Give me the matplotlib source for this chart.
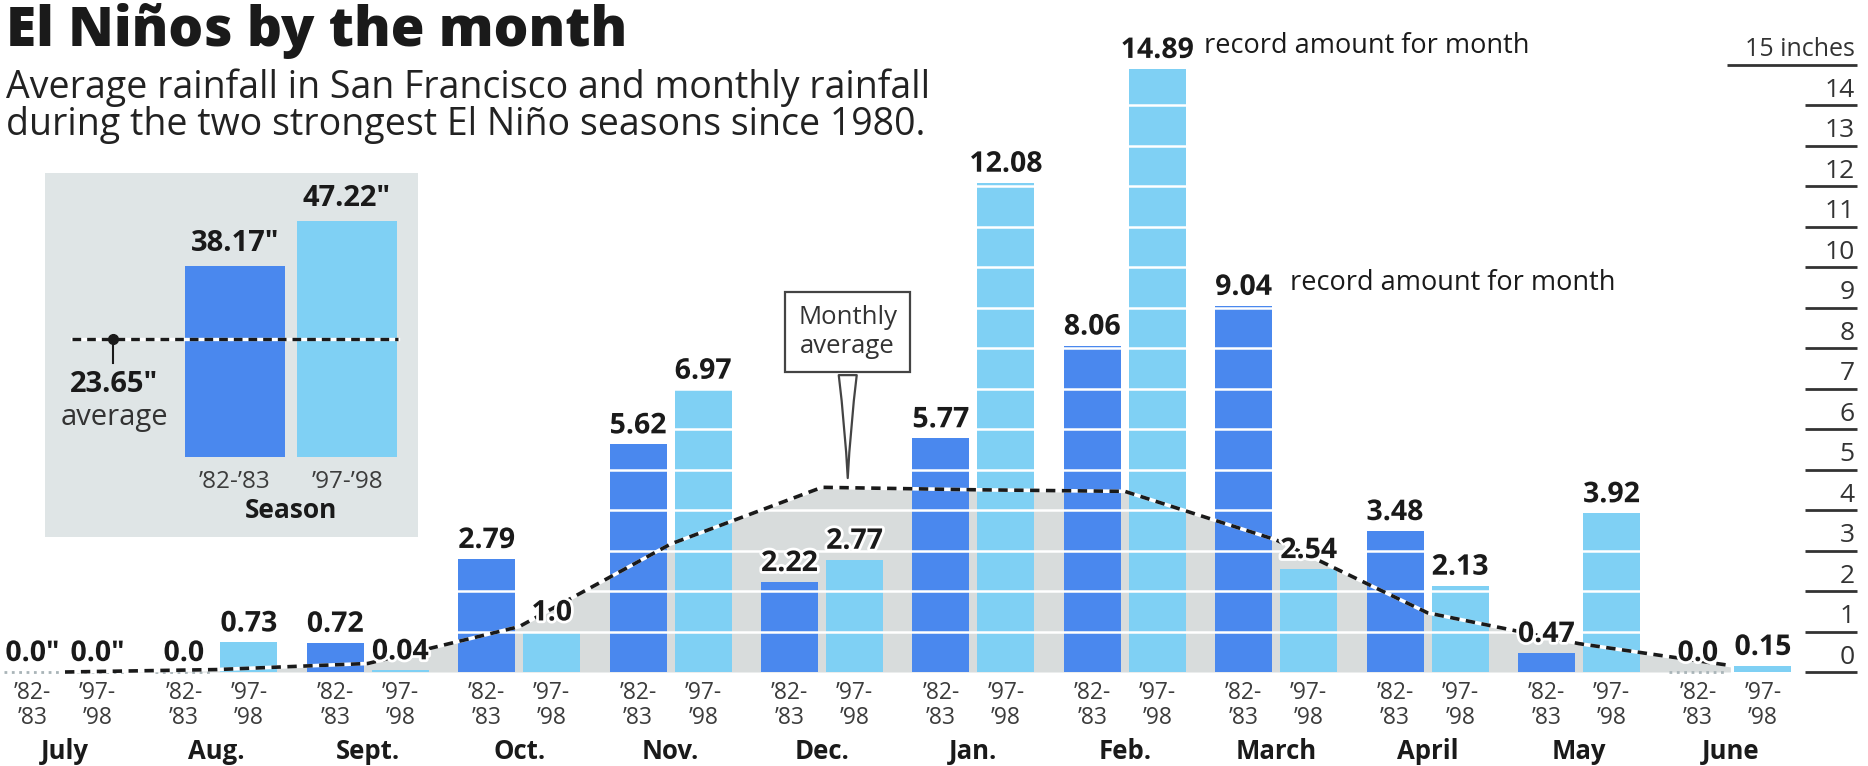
import numpy as np
import matplotlib.pyplot as plt
import matplotlib.patheffects as pe

plt.rcParams['font.family'] = ['Open Sans', 'DejaVu Sans']

# monthly rainfall in San Francisco (inches)
months = ['July', 'Aug.', 'Sept.', 'Oct.', 'Nov.', 'Dec.',
          'Jan.', 'Feb.', 'March', 'April', 'May', 'June']
rain_8283 = [0.0, 0.0, 0.72, 2.79, 5.62, 2.22, 5.77, 8.06, 9.04, 3.48, 0.47, 0.0]
rain_9798 = [0.0, 0.73, 0.04, 1.0, 6.97, 2.77, 12.08, 14.89, 2.54, 2.13, 3.92, 0.15]
monthly_avg = [0.0, 0.06, 0.21, 1.12, 3.16, 4.56, 4.50, 4.46, 3.26, 1.46, 0.70, 0.16]
season_short = ['’82-\n’83', '’97-\n’98']
season_names = ['’82-’83', '’97-’98']
records = [(7, 1), (8, 0)]   # (month index, season index)
inch_ticks = list(range(15))

season_totals = [round(sum(rain_8283), 2), round(sum(rain_9798), 2)]
season_avg = round(sum(monthly_avg), 2)

DARK = '#4a88ee'
LIGHT = '#7fd0f4'
GRAY = '#d8dcdc'
PANEL = '#dfe5e6'
INK = '#1a1a1a'
SUB = '#3c3c3c'

W, H = 1868, 766
fig = plt.figure(figsize=(W / 100, H / 100), dpi=100)

# main axes covers the whole figure, x in months, y in inches
ax = fig.add_axes([0, 0, 1, 1])
ax.axis('off')
px_month, x0, px_inch, base = 151.4, 65, 40.5, 672
ax.set_xlim(-x0 / px_month, (W - x0) / px_month)
ax.set_ylim(-(H - base) / px_inch, base / px_inch)

x = np.arange(len(months))
bw, off = 0.376, 0.215
series = [(rain_8283, DARK, -off), (rain_9798, LIGHT, off)]

ax.fill_between(x, monthly_avg, color=GRAY, lw=0, zorder=1)
for vals, col, dx in series:
    ax.bar(x + dx, vals, bw, color=col, zorder=2)
    zeros = [xi + dx for xi, v in zip(x, vals) if v == 0]
    ax.hlines([0] * len(zeros), np.array(zeros) - bw / 2, np.array(zeros) + bw / 2,
              colors='#a9b4b8', linestyles=':', lw=2, zorder=2)

# white inch stripes across the bars
ax.hlines(np.arange(1, 16), -0.45, 11.45, colors='white', lw=1.8, zorder=3)

# monthly average line
ax.plot(x, monthly_avg, color='white', lw=2.6, zorder=4)
ax.plot(x, monthly_avg, color=INK, lw=2.6, dashes=(2.6, 1.8), zorder=4.1)


def fmt(v):
    return f'{v:.1f}' if abs(v * 10 - round(v * 10)) < 1e-9 else f'{v:.2f}'


halo = [pe.withStroke(linewidth=4, foreground='white')]
for j, (vals, col, dx) in enumerate(series):
    for i, v in enumerate(vals):
        lab = fmt(v) + ('"' if i == 0 else '')
        ax.text(i + dx, v + 0.1, lab, ha='center', va='bottom',
                fontsize=20.5, fontweight='bold', color=INK, zorder=6,
                path_effects=halo)
        ax.text(i + dx, -0.22, season_short[j], ha='center', va='top',
                fontsize=16.5, color=SUB, linespacing=1.05, zorder=6)

for i, j in records:
    vals, col, dx = series[j]
    ax.text(i + dx + bw / 2 + 0.12, vals[i] + 0.22, 'record amount for month',
            ha='left', va='bottom', fontsize=19.5, color=INK, zorder=6)

for i, m in enumerate(months):
    ax.text(i, -1.97, m, ha='center', va='center', fontsize=18.5,
            fontweight='bold', color=INK)

# inch scale on the right
for t in inch_ticks:
    ax.hlines(t, 11.49, 11.836, colors='#333333', lw=2, zorder=5)
    ax.text(11.82, t + 0.05, str(t), ha='right', va='bottom', fontsize=19,
            color='#333333', zorder=5)
ax.hlines(15, 10.98, 11.836, colors='#333333', lw=2, zorder=5)
ax.text(11.82, 15 + 0.05, '15 inches', ha='right', va='bottom', fontsize=18,
        color='#333333', zorder=5)

# callout for the average line
ax.annotate('Monthly\naverage', xy=(5.17, 4.72), xytext=(5.17, 8.4),
            ha='center', va='center', fontsize=18.5, color='#333333', zorder=7,
            bbox=dict(boxstyle='square,pad=0.5', fc='white', ec='#444444', lw=1.6),
            arrowprops=dict(arrowstyle='wedge,tail_width=0.7,shrink_factor=0.4',
                            fc='white', ec='#444444', lw=1.6))

# title block
fig.text(6 / W, 1 - 46 / H, 'El Niños by the month', fontsize=39.5,
         fontweight='heavy', color=INK, va='baseline')
fig.text(6 / W, 1 - 98 / H, 'Average rainfall in San Francisco and monthly rainfall',
         fontsize=27, color='#222222', va='baseline')
fig.text(6 / W, 1 - 135 / H, 'during the two strongest El Niño seasons since 1980.',
         fontsize=27, color='#222222', va='baseline')

# season totals panel
ins = fig.add_axes([45 / W, (H - 537) / H, 373 / W, 364 / H], facecolor=PANEL)
for s in ins.spines.values():
    s.set_visible(False)
ins.set_xticks([])
ins.set_yticks([])
ins.set_xlim(-190 / 112, (373 - 190) / 112)
ins.set_ylim(-80 / 5, (364 - 80) / 5)
ins.bar([0, 1], season_totals, 0.89, color=[DARK, LIGHT], zorder=2)
for i, v in enumerate(season_totals):
    ins.text(i, v + 1.6, f'{v:.2f}"', ha='center', va='bottom', fontsize=21,
             fontweight='bold', color=INK)
    ins.text(i, -5, season_names[i], ha='center', va='center', fontsize=17.5, color=SUB)
ins.text(0.5, -10.8, 'Season', ha='center', va='center', fontsize=19,
         fontweight='bold', color=INK)
ins.plot([-1.455, 1.455], [season_avg] * 2, color='white', lw=2.4, zorder=3)
ins.plot([-1.455, 1.455], [season_avg] * 2, color=INK, lw=2.4, dashes=(2.6, 1.8), zorder=3.1)
ins.plot([-1.089, -1.089], [season_avg, 18.8], color=INK, lw=1.5, zorder=4)
ins.plot([-1.089], [season_avg], 'o', color=INK, ms=7, zorder=4)
ins.text(-1.08, 14.4, f'{season_avg:.2f}"', ha='center', va='center', fontsize=21,
         fontweight='bold', color=INK)
ins.text(-1.08, 7.8, 'average', ha='center', va='center', fontsize=21, color='#333333')

fig.savefig('out.png', dpi=100)
